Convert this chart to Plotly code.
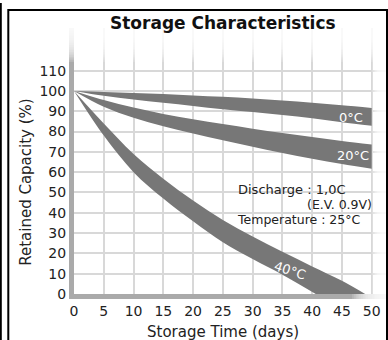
import plotly.graph_objects as go

# ---------------- data ----------------
days = [0, 5, 10, 15, 20, 25, 30, 35, 40, 45, 50]

c0_upper = [100, 99.5, 99.0, 98.5, 97.8, 97.1, 96.3, 95.3, 94.2, 92.9, 91.6]
c0_lower = [100, 97.6, 95.8, 94.2, 92.6, 91.0, 89.6, 88.1, 86.5, 84.6, 82.8]

c20_upper = [100, 95.5, 91.8, 88.7, 86.1, 83.7, 81.4, 79.3, 77.3, 75.4, 73.6]
c20_lower = [100, 92.2, 86.8, 82.6, 79.0, 75.7, 72.5, 69.4, 66.6, 64.0, 61.7]

c40_upper_x = [0, 5, 10, 15, 20, 25, 30, 35, 40, 45, 48.9]
c40_upper = [100, 84.0, 69.0, 56.8, 46.0, 36.5, 28.3, 20.8, 13.6, 6.5, 0]
c40_lower_x = [0, 5, 10, 15, 20, 25, 30, 35, 40.6]
c40_lower = [100, 78.0, 60.0, 47.0, 35.8, 25.5, 17.2, 9.5, 0]

x_ticks = [0, 5, 10, 15, 20, 25, 30, 35, 40, 45, 50]
y_ticks = [0, 10, 20, 30, 40, 50, 60, 70, 80, 90, 100, 110]

title_text = "Storage Characteristics"
x_title = "Storage Time (days)"
y_title = "Retained Capacity (%)"
band_labels = ["0°C", "20°C", "40°C"]
note_lines = ["Discharge : 1,0C", "(E.V. 0.9V)", "Temperature : 25°C"]

# ---------------- figure ----------------
W, H = 388, 340
ML, MR, MT, MB = 74, 2, 28, 46
PW, PH = W - ML - MR, H - MT - MB

BAND = "#777777"
FONT = "DejaVu Sans"
TXT = "#222222"

fig = go.Figure()


def band(xu, yu, xl, yl):
    fig.add_trace(go.Scatter(x=xl, y=yl, mode="lines",
                             line=dict(width=0, color=BAND, shape="spline", smoothing=1.0),
                             hoverinfo="skip", showlegend=False))
    fig.add_trace(go.Scatter(x=xu, y=yu, mode="lines", fill="tonexty", fillcolor=BAND,
                             line=dict(width=0, color=BAND, shape="spline", smoothing=1.0),
                             hoverinfo="skip", showlegend=False))


band(days, c0_upper, days, c0_lower)
band(days, c20_upper, days, c20_lower)
band(c40_upper_x, c40_upper, c40_lower_x, c40_lower)


def px2paper_x(p):
    return (p - ML) / PW


def px2paper_y(q):
    return (MT + PH - q) / PH


shapes = []
# white box behind the note text
shapes.append(dict(type="rect", xref="paper", yref="paper",
                   x0=px2paper_x(233), x1=px2paper_x(378),
                   y0=px2paper_y(228), y1=px2paper_y(181),
                   fillcolor="white", line=dict(width=0), layer="between"))

N = 20
# top fade (grid + left axis line)
for k in range(1, N + 1):
    q = MT + 34 * k / N
    shapes.append(dict(type="rect", xref="paper", yref="paper",
                       x0=px2paper_x(64), x1=1.0, y0=px2paper_y(q), y1=1.0,
                       fillcolor="white", opacity=0.14, line=dict(width=0), layer="above"))
# right fade (horizontal grid)
for k in range(1, N + 1):
    p = W - MR - 14 * k / N
    shapes.append(dict(type="rect", xref="paper", yref="paper",
                       x0=px2paper_x(p), x1=1.0, y0=0, y1=1.0,
                       fillcolor="white", opacity=0.14, line=dict(width=0), layer="above"))
# bottom axis fade
for k in range(1, N + 1):
    p = W - 36 * k / N
    shapes.append(dict(type="rect", xref="paper", yref="paper",
                       x0=px2paper_x(p), x1=px2paper_x(W + 2), y0=px2paper_y(301), y1=0,
                       fillcolor="white", opacity=0.14, line=dict(width=0), layer="above"))

# outer frame
shapes.append(dict(type="rect", xref="paper", yref="paper",
                   x0=px2paper_x(8.3), x1=px2paper_x(387), y0=px2paper_y(350), y1=px2paper_y(10),
                   line=dict(color="black", width=2), fillcolor="rgba(0,0,0,0)", layer="above"))
shapes.append(dict(type="line", xref="paper", yref="paper",
                   x0=px2paper_x(0.8), x1=px2paper_x(0.8), y0=px2paper_y(350), y1=px2paper_y(3),
                   line=dict(color="black", width=2), layer="above"))

annotations = [
    dict(text="<b>" + title_text + "</b>", xref="x", yref="paper", x=25, y=px2paper_y(23),
         showarrow=False, font=dict(family=FONT, size=17, color="#111111"), xanchor="center", yanchor="middle"),
    dict(text=x_title, xref="x", yref="paper", x=25, y=px2paper_y(332),
         showarrow=False, font=dict(family=FONT, size=15, color=TXT), xanchor="center", yanchor="middle"),
    dict(text=y_title, xref="paper", yref="y", x=px2paper_x(26.5), y=55,
         showarrow=False, textangle=-90, font=dict(family=FONT, size=15, color=TXT),
         xanchor="center", yanchor="middle"),
    dict(text=band_labels[0], xref="x", yref="y", x=46.5, y=87.1, showarrow=False,
         font=dict(family=FONT, size=13, color="white")),
    dict(text=band_labels[1], xref="x", yref="y", x=46.8, y=68.2, showarrow=False,
         font=dict(family=FONT, size=13, color="white")),
    dict(text=band_labels[2], xref="x", yref="y", x=36.3, y=11.8, showarrow=False, textangle=18,
         font=dict(family=FONT, size=13, color="white")),
    dict(text=note_lines[0], xref="x", yref="y", x=27.2, y=51.7, showarrow=False, xanchor="left",
         font=dict(family=FONT, size=13, color=TXT)),
    dict(text=note_lines[1], xref="x", yref="y", x=50.4, y=44.3, showarrow=False, xanchor="right",
         font=dict(family=FONT, size=12.5, color=TXT)),
    dict(text=note_lines[2], xref="x", yref="y", x=27.0, y=36.9, showarrow=False, xanchor="left",
         font=dict(family=FONT, size=12.5, color=TXT)),
]

fig.update_layout(
    width=W, height=H,
    margin=dict(l=ML, r=MR, t=MT, b=MB, pad=0),
    paper_bgcolor="white", plot_bgcolor="white",
    showlegend=False,
    shapes=shapes,
    annotations=annotations,
    xaxis=dict(range=[0, 52.4], tickvals=x_ticks, ticktext=[str(v) for v in x_ticks],
               showgrid=True, gridcolor="#d8d8d8", gridwidth=1.5, zeroline=False,
               showline=True, linecolor="#aaaaaa", linewidth=5, ticks="", automargin=False,
               tickfont=dict(family=FONT, size=14, color=TXT), fixedrange=True),
    yaxis=dict(range=[0, 131], tickvals=y_ticks, ticktext=[str(v) for v in y_ticks],
               showgrid=True, gridcolor="#d8d8d8", gridwidth=1.5, zeroline=False,
               showline=True, linecolor="#aaaaaa", linewidth=5, ticks="", automargin=False,
               tickfont=dict(family=FONT, size=14, color=TXT), fixedrange=True),
)

fig.write_html("out.html", config={"displayModeBar": False},
               post_script="document.body.style.margin='0';document.body.style.padding='0';")
